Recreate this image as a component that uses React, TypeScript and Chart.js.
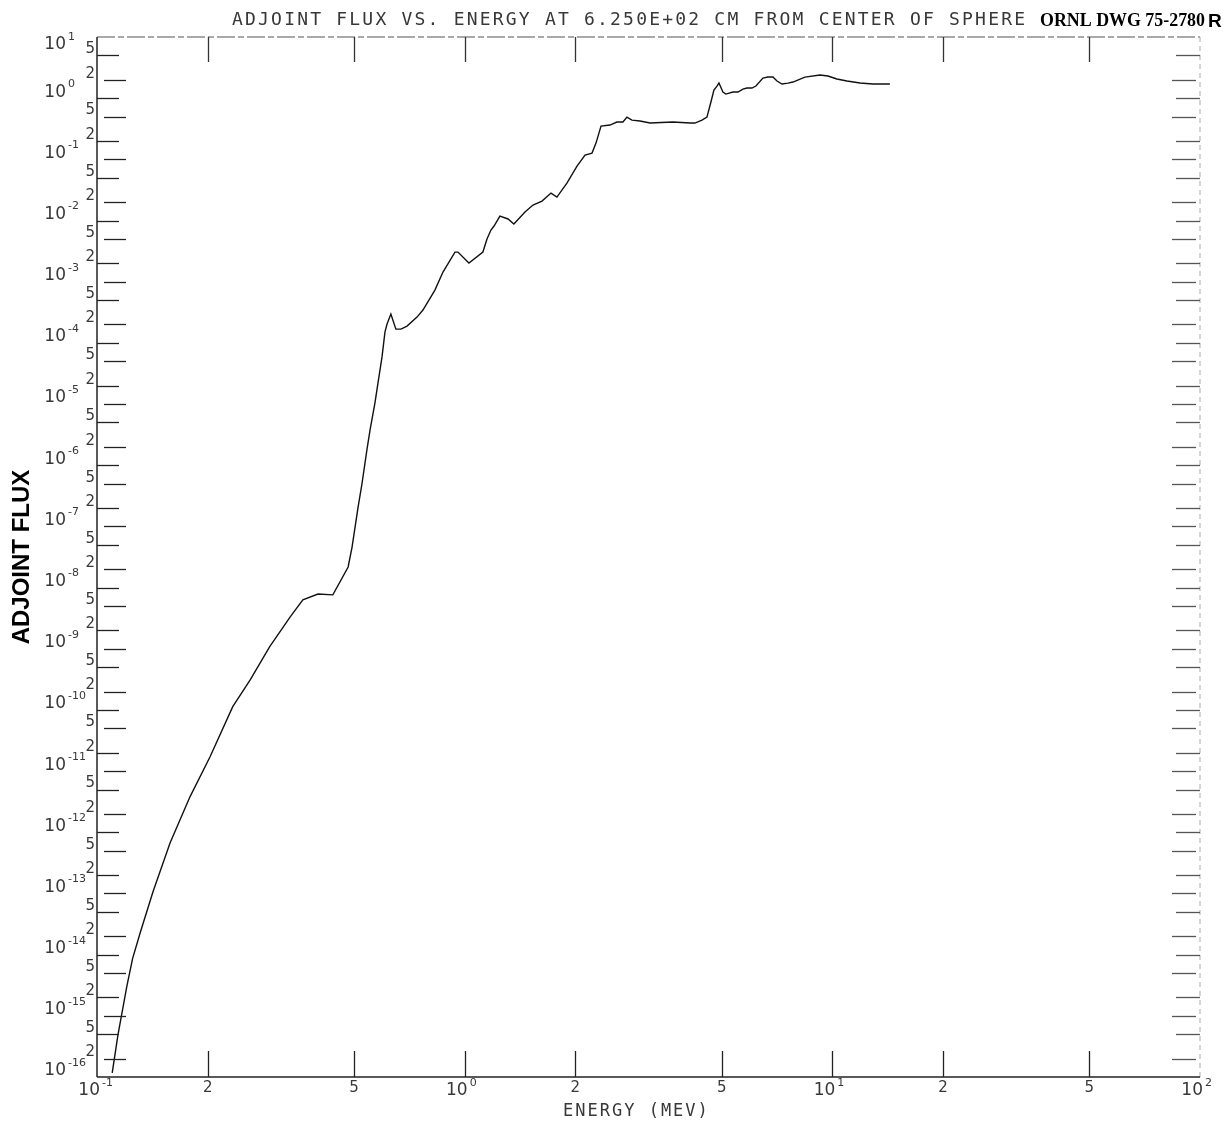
import { useEffect, useRef } from "react";
import { Chart, registerables } from "chart.js";

Chart.register(...registerables);

// ---- data ----
const energyMeV = [
  0.110, 0.114, 0.1205, 0.125, 0.131, 0.142, 0.158, 0.179, 0.203, 0.234,
  0.261, 0.295, 0.335, 0.363, 0.399, 0.438, 0.482, 0.494, 0.513, 0.526,
  0.542, 0.553, 0.570, 0.581, 0.596, 0.607, 0.615, 0.630, 0.650, 0.671,
  0.697, 0.742, 0.770, 0.830, 0.873, 0.941, 0.959, 1.027, 1.121, 1.150,
  1.179, 1.202, 1.247, 1.312, 1.361, 1.459, 1.534, 1.623, 1.717, 1.782,
  1.897, 2.021, 2.125, 2.220, 2.276, 2.349, 2.484, 2.595, 2.695, 2.763,
  2.851, 2.998, 3.192, 3.686, 4.10, 4.23, 4.42, 4.56, 4.675, 4.764,
  4.855, 4.916, 5.04, 5.134, 5.365, 5.535, 5.711, 5.857, 6.043, 6.196,
  6.475, 6.68, 6.895, 7.07, 7.295, 7.575, 7.815, 8.424, 9.254, 9.727,
  10.29, 10.96, 11.89, 12.9, 14.34,
];
const adjointFlux = [
  1.17e-16, 4.85e-16, 3.0e-15, 8.7e-15, 2.26e-14, 1.07e-13, 6.7e-13, 3.8e-12, 1.72e-11, 1.13e-10,
  3.1e-10, 1.08e-9, 3.3e-9, 6.3e-9, 7.85e-9, 7.6e-9, 2.17e-8, 4.6e-8, 2.07e-7, 5.1e-7,
  1.77e-6, 3.8e-6, 1.04e-5, 2.2e-5, 5.9e-5, 1.5e-4, 2.03e-4, 2.96e-4, 1.68e-4, 1.68e-4,
  1.88e-4, 2.64e-4, 3.44e-4, 7.3e-4, 1.44e-3, 3.05e-3, 3.05e-3, 2.02e-3, 3.05e-3, 4.98e-3,
  6.98e-3, 8.13e-3, 1.18e-2, 1.06e-2, 8.75e-3, 1.38e-2, 1.79e-2, 2.08e-2, 2.81e-2, 2.42e-2,
  4.1e-2, 7.76e-2, 0.1175, 0.1267, 0.1845, 0.350, 0.364, 0.407, 0.407, 0.491,
  0.438, 0.423, 0.392, 0.407, 0.392, 0.392, 0.438, 0.491, 0.865, 1.358,
  1.578, 1.766, 1.259, 1.167, 1.259, 1.259, 1.41, 1.466, 1.466, 1.578,
  2.133, 2.214, 2.214, 1.905, 1.702, 1.766, 1.835, 2.214, 2.387, 2.30,
  2.056, 1.905, 1.766, 1.702, 1.702,
];

const xRange = [0.1, 100];
const yRange = [1e-16, 10];
const xTickValues = [0.1, 0.2, 0.5, 1, 2, 5, 10, 20, 50, 100];
const xTickBase = ["10", "2", "5", "10", "2", "5", "10", "2", "5", "10"];
const xTickExp = ["-1", "", "", "0", "", "", "1", "", "", "2"];
const yDecadeExponents = [-16, -15, -14, -13, -12, -11, -10, -9, -8, -7, -6, -5, -4, -3, -2, -1, 0, 1];
const yMantissas = [1, 2, 5];

const chartTitle = "ADJOINT FLUX VS. ENERGY AT 6.250E+02 CM FROM CENTER OF SPHERE";
const drawingId = "ORNL DWG 75-2780";
const drawingSuffix = "R";
const xAxisTitle = "ENERGY (MEV)";
const yAxisTitle = "ADJOINT FLUX";

const yTickValues: number[] = [];
const yTickBase: string[] = [];
const yTickExp: string[] = [];
for (const e of yDecadeExponents) {
  for (const m of yMantissas) {
    const v = Number((m * Math.pow(10, e)).toPrecision(3));
    if (v <= yRange[1] * 1.0001) {
      yTickValues.push(v);
      yTickBase.push(m === 1 ? "10" : String(m));
      yTickExp.push(m === 1 ? String(e) : "");
    }
  }
}

const PLOT_FONT = "'DejaVu Sans Mono', monospace";
const LABEL_FONT = "'DejaVu Sans', sans-serif";
const TEXT_COLOR = "#383838";

const framePlugin = {
  id: "frameTicks",
  afterDraw(chart: any) {
    const { ctx, chartArea, scales } = chart;
    const { left, right, top, bottom } = chartArea;
    const x = scales.x;
    const y = scales.y;
    ctx.save();
    ctx.lineCap = "butt";
    const line = (x1: number, y1: number, x2: number, y2: number) => {
      ctx.beginPath();
      ctx.moveTo(x1, y1);
      ctx.lineTo(x2, y2);
      ctx.stroke();
    };
    // top frame (dashed, plotter-like)
    ctx.strokeStyle = "#555";
    ctx.lineWidth = 1.2;
    ctx.setLineDash([18, 3, 6, 3]);
    line(left, top, right, top);
    // right frame (faint dotted)
    ctx.strokeStyle = "#aaa";
    ctx.lineWidth = 1;
    ctx.setLineDash([5, 4]);
    line(right, top, right, bottom);
    ctx.setLineDash([]);
    // left & bottom axes
    ctx.strokeStyle = "#222";
    ctx.lineWidth = 1.5;
    line(left, top, left, bottom);
    line(left, bottom, right, bottom);

    // y ticks + labels
    ctx.lineWidth = 1.3;
    y.ticks.forEach((t: any, i: number) => {
      const yp = y.getPixelForValue(t.value);
      const py = Math.round(yp) + 0.5;
      if (!(Math.abs(py - bottom) < 2 || Math.abs(py - top) < 2)) {
        const off = i % 2 === 1 ? 7 : 0;
        ctx.strokeStyle = "#222";
        line(left + off, py, left + off + 22, py);
        ctx.strokeStyle = "#555";
        const roff = i % 2 === 1 ? 4 : 0;
        line(right - 24 - roff, py, right - roff, py);
      }
      ctx.fillStyle = TEXT_COLOR;
      ctx.textBaseline = "middle";
      const ly = Math.max(yp - 6, top + 8);
      if (yTickExp[i] !== "") {
        ctx.font = `17px ${LABEL_FONT}`;
        ctx.textAlign = "right";
        ctx.fillText(yTickBase[i], left - 31, ly);
        ctx.font = `11px ${LABEL_FONT}`;
        ctx.textAlign = "left";
        ctx.fillText(yTickExp[i], left - 29, ly - 8);
      } else {
        ctx.font = `15px ${LABEL_FONT}`;
        ctx.textAlign = "right";
        ctx.fillText(yTickBase[i], left - 2, ly);
      }
    });
    // x ticks + labels
    x.ticks.forEach((t: any, i: number) => {
      const xp = x.getPixelForValue(t.value);
      const px = Math.round(xp) + 0.5;
      if (!(Math.abs(px - left) < 2 || Math.abs(px - right) < 2)) {
        ctx.strokeStyle = "#222";
        line(px, bottom, px, bottom - 26);
        ctx.strokeStyle = "#333";
        line(px, top, px, top + 25);
      }
      ctx.fillStyle = TEXT_COLOR;
      ctx.textBaseline = "middle";
      if (xTickExp[i] !== "") {
        ctx.font = `17px ${LABEL_FONT}`;
        ctx.textAlign = "right";
        ctx.fillText(xTickBase[i], xp + 3, bottom + 14);
        ctx.font = `11px ${LABEL_FONT}`;
        ctx.textAlign = "left";
        ctx.fillText(xTickExp[i], xp + 5, bottom + 6);
      } else {
        ctx.font = `15px ${LABEL_FONT}`;
        ctx.textAlign = "center";
        ctx.fillText(xTickBase[i], xp, bottom + 11);
      }
    });

    // x axis title
    ctx.fillStyle = TEXT_COLOR;
    ctx.textBaseline = "middle";
    ctx.textAlign = "left";
    ctx.font = `17px ${PLOT_FONT}`;
    (ctx as any).letterSpacing = "2px";
    ctx.fillText(xAxisTitle, 563, bottom + 35);

    // header texts
    ctx.textBaseline = "alphabetic";
    ctx.font = `18px ${PLOT_FONT}`;
    (ctx as any).letterSpacing = "2.2px";
    ctx.fillText(chartTitle, 232, 25);
    (ctx as any).letterSpacing = "0px";
    ctx.fillStyle = "#000";
    ctx.font = "bold 18px 'Liberation Serif', serif";
    ctx.fillText(drawingId, 1040, 26, 165);
    ctx.font = "bold 19px 'Liberation Sans', sans-serif";
    ctx.fillText(drawingSuffix, 1208, 27);
    ctx.restore();
  },
};

export default function App() {
  const ref = useRef<HTMLCanvasElement>(null);
  useEffect(() => {
    const canvas = ref.current;
    if (!canvas) return;
    const points = energyMeV.map((e, i) => ({ x: e, y: adjointFlux[i] }));
    const chart = new Chart(canvas, {
      type: "line",
      data: {
        datasets: [
          {
            label: yAxisTitle,
            data: points,
            borderColor: "#111",
            borderWidth: 1.4,
            pointRadius: 0,
            tension: 0,
            fill: false,
          },
        ],
      },
      options: {
        animation: false,
        responsive: false,
        devicePixelRatio: 1,
        layout: { padding: { top: 37, right: 27, bottom: 0, left: 0 } },
        plugins: {
          legend: { display: false },
          tooltip: { enabled: false },
          title: { display: false },
        },
        scales: {
          x: {
            type: "logarithmic",
            min: xRange[0],
            max: xRange[1],
            afterBuildTicks: (scale: any) => {
              scale.ticks = xTickValues.map((v) => ({ value: v }));
            },
            afterFit: (scale: any) => {
              scale.height = 57;
            },
            grid: { display: false, drawTicks: false },
            border: { display: false },
            ticks: { display: false, autoSkip: false },
            title: { display: false },
          },
          y: {
            type: "logarithmic",
            min: yRange[0],
            max: yRange[1],
            afterBuildTicks: (scale: any) => {
              scale.ticks = yTickValues.map((v) => ({ value: v }));
            },
            afterFit: (scale: any) => {
              scale.width = 97;
            },
            grid: { display: false, drawTicks: false },
            border: { display: false },
            ticks: { display: false, autoSkip: false },
            title: {
              display: true,
              text: yAxisTitle,
              color: "#000",
              font: { family: "'Liberation Sans', Arial, sans-serif", size: 24, weight: "bold" },
              padding: { top: 8, bottom: 0 },
            },
          },
        },
      },
      plugins: [framePlugin],
    } as any);
    return () => chart.destroy();
  }, []);
  return (
    <div style={{ position: "fixed", left: 0, top: 0, width: 1227, height: 1134, background: "#fff" }}>
      <canvas ref={ref} width={1227} height={1134} style={{ display: "block" }} />
    </div>
  );
}
